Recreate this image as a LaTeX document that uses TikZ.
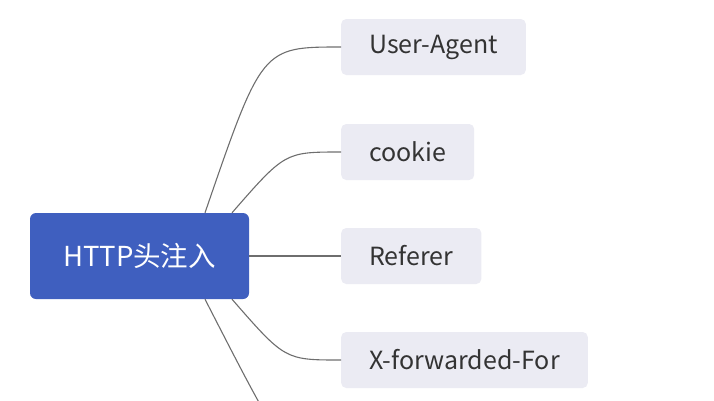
\documentclass[tikz,border=0pt]{standalone}
\usepackage{fontspec}
\setmainfont{Noto Sans CJK SC}
\usetikzlibrary{positioning}

\definecolor{rootblue}{HTML}{3F5FBF}
\definecolor{leafgray}{HTML}{EBEBF3}
\definecolor{linegray}{HTML}{6E6E6E}
\definecolor{textgray}{HTML}{333333}

\tikzset{
  rootbox/.style={fill=rootblue, rounded corners=6pt, minimum width=219pt,
    minimum height=86pt, inner sep=0pt, text=white, font=\fontsize{27.5}{30}\selectfont},
  leafbox/.style={fill=leafgray, rounded corners=5pt, minimum height=56pt,
    inner xsep=28pt, inner ysep=0pt, text=textgray, font=\fontsize{25}{28}\selectfont},
  branch/.style={linegray, line width=1.1pt}
}

\begin{document}
\begin{tikzpicture}[x=1pt, y=1pt]
\useasboundingbox (0,0) rectangle (714,-400);
\clip (0,0) rectangle (714,-400);

% main topic
\node[rootbox] (root) at (139.5,-256) {HTTP头注入};

% subtopics, all left-aligned at x=341
\node[leafbox, anchor=west] (ua)  at (341,-47)  {User-Agent};
\node[leafbox, anchor=west] (ck)  at (341,-152) {cookie};
\node[leafbox, anchor=west] (ref) at (341,-256) {Referer};
\node[leafbox, anchor=west] (xff) at (341,-360) {X-forwarded-For};
\coordinate (more) at (341,-465); % next subtopic, off the page

% branches
\draw[branch] ([xshift=65.5pt]root.north) .. controls (262,-47) .. (ua.west);
\draw[branch] ([xshift=92.5pt]root.north) .. controls (285,-152) .. (ck.west);
\draw[branch] (root.east) -- (ref.west);
\draw[branch] ([xshift=92.5pt]root.south) .. controls (285,-360) .. (xff.west);
\draw[branch] ([xshift=65.5pt]root.south) .. controls (290,-465) .. (more);

\end{tikzpicture}
\end{document}
